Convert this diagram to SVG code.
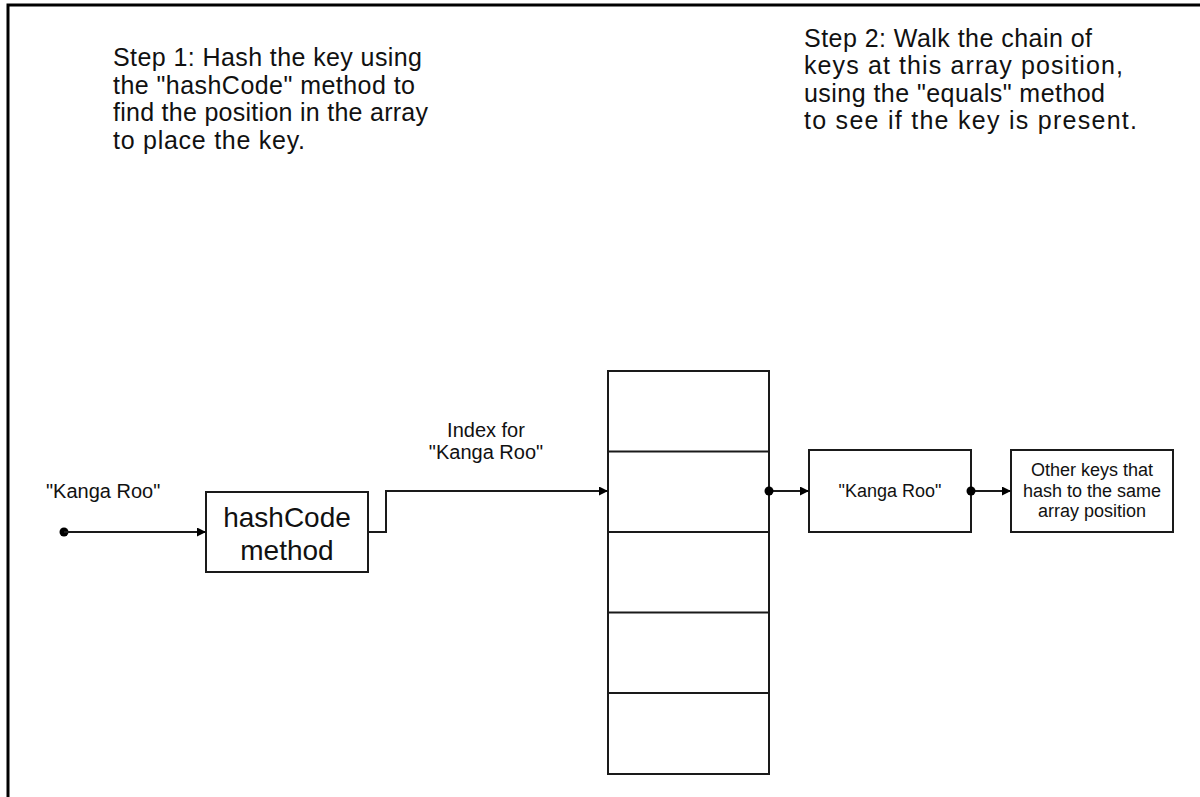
<svg xmlns="http://www.w3.org/2000/svg" width="1200" height="797" viewBox="0 0 1200 797">
  <style>
    .frame { stroke: #000; stroke-width: 3; fill: none; }
    .box { fill: #fff; stroke: #1a1a1a; stroke-width: 2; }
    .wire { fill: none; stroke: #1a1a1a; stroke-width: 2; }
    .dot { fill: #000; }
    .txt { font-family: "Liberation Sans", Arial, sans-serif; fill: #111; }
    .step { font-size: 25px; }
    .lbl { font-size: 20px; }
    .big { font-size: 28px; text-anchor: middle; }
    .small { font-size: 18px; text-anchor: middle; }
  </style>
  <defs>
    <marker id="arrow" viewBox="0 0 10 10" refX="10" refY="5" markerWidth="10" markerHeight="9" markerUnits="userSpaceOnUse" orient="auto">
      <path d="M0,0 L10,5 L0,10 Z" fill="#000"/>
    </marker>
  </defs>

  <rect width="1200" height="797" fill="#fff"/>

  <!-- page frame (top and left edges) -->
  <path class="frame" d="M8,797 V5 H1200"/>

  <!-- step captions -->
  <g id="step1" class="txt step">
    <text x="113" y="66" textLength="309" lengthAdjust="spacing">Step 1: Hash the key using</text>
    <text x="113" y="93.5" textLength="302" lengthAdjust="spacing">the "hashCode" method to</text>
    <text x="113" y="121" textLength="315" lengthAdjust="spacing">find the position in the array</text>
    <text x="113" y="148.5" textLength="192" lengthAdjust="spacing">to place the key.</text>
  </g>
  <g id="step2" class="txt step">
    <text x="804" y="47" textLength="288" lengthAdjust="spacing">Step 2: Walk the chain of</text>
    <text x="804" y="74" textLength="319" lengthAdjust="spacing">keys at this array position,</text>
    <text x="804" y="101.5" textLength="301" lengthAdjust="spacing">using the "equals" method</text>
    <text x="804" y="129" textLength="333" lengthAdjust="spacing">to see if the key is present.</text>
  </g>

  <!-- input key -->
  <g id="key-input">
    <text class="txt lbl" x="46" y="498">"Kanga Roo"</text>
    <circle class="dot" cx="64" cy="532" r="4.5"/>
  </g>

  <!-- hash function -->
  <g id="hashcode">
    <rect class="box" x="206" y="492" width="162" height="80"/>
    <text class="txt big" x="287" y="527">hashCode</text>
    <text class="txt big" x="287" y="560">method</text>
  </g>

  <!-- index label -->
  <g id="index-label" class="txt lbl" text-anchor="middle">
    <text x="486" y="437">Index for</text>
    <text x="486" y="459">"Kanga Roo"</text>
  </g>

  <!-- bucket array -->
  <g id="array">
    <rect class="box" x="608" y="371" width="161" height="403"/>
    <line class="wire" x1="608" y1="451.5" x2="769" y2="451.5"/>
    <line class="wire" x1="608" y1="532" x2="769" y2="532"/>
    <line class="wire" x1="608" y1="612.5" x2="769" y2="612.5"/>
    <line class="wire" x1="608" y1="693" x2="769" y2="693"/>
  </g>

  <!-- first entry in the chain -->
  <g id="entry-kanga">
    <rect class="box" x="809" y="450" width="162" height="82"/>
    <text class="txt small" x="890" y="497">"Kanga Roo"</text>
  </g>

  <!-- remaining entries -->
  <g id="entry-others">
    <rect class="box" x="1011" y="450" width="162" height="82"/>
    <text class="txt small" x="1092" y="476">Other keys that</text>
    <text class="txt small" x="1092" y="496.5">hash to the same</text>
    <text class="txt small" x="1092" y="517">array position</text>
  </g>

  <!-- connectors -->
  <g id="connectors">
    <path class="wire" d="M64,532 H206" marker-end="url(#arrow)"/>
    <path class="wire" d="M368,532 H386 V491 H608" marker-end="url(#arrow)"/>
    <path class="wire" d="M769,491 H809" marker-end="url(#arrow)"/>
    <path class="wire" d="M971,491 H1011" marker-end="url(#arrow)"/>
    <circle class="dot" cx="769" cy="491" r="4.5"/>
    <circle class="dot" cx="971" cy="491" r="4.5"/>
  </g>
</svg>
